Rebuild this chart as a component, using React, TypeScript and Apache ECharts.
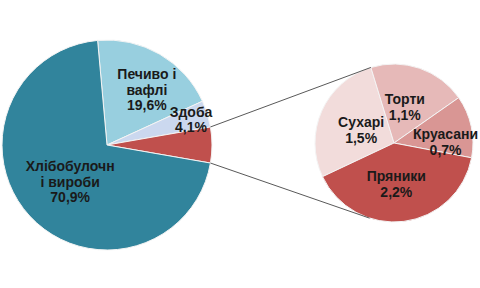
import React, { useEffect, useRef } from "react";
import * as echarts from "echarts";

// Main pie data
const mainNames = ["Печиво і\nвафлі", "Здоба", "Інше", "Хлібобулочн\nі вироби"];
const mainValues = [19.6, 4.1, 5.5, 70.9];
const mainLabels = ["19,6%", "4,1%", "", "70,9%"];

// Secondary pie data (breakdown of "Інше")
const subNames = ["Сухарі", "Торти", "Круасани", "Пряники"];
const subValues = [1.5, 1.1, 0.7, 2.2];
const subLabels = ["1,5%", "1,1%", "0,7%", "2,2%"];

const mainColors = ["#98CFDF", "#CBD8EF", "#C0504D", "#31849C"];
const subColors = ["#F2DCDB", "#E6B9B8", "#D99694", "#C0504D"];

// layout (pixels)
const MAIN_C = [107, 145];
const MAIN_R = 105;
const SUB_C = [394, 143];
const SUB_R = 79;
const SUB_START = 205.2;
const mainLabelShift = [[12, -7], [31, -9], [0, 0], [4, -1]];
const subLabelShift = [[6, 4], [-3, 4], [10, 8], [-3, -1]];

export default function App() {
  const ref = useRef<HTMLDivElement>(null);
  useEffect(() => {
    document.body.style.margin = "0";
    const chart = echarts.init(ref.current!, null, { renderer: "svg" });
    const total = mainValues.reduce((a, b) => a + b, 0);
    const otherIdx = 2;
    const before = mainValues.slice(0, otherIdx).reduce((a, b) => a + b, 0);
    const half = mainValues[otherIdx] / 2;
    const startAngle = ((before + half) / total) * 360;
    const halfDeg = (half / total) * 360;
    const rad = (d: number) => (d * Math.PI) / 180;
    const p1 = [MAIN_C[0] + MAIN_R * Math.cos(rad(halfDeg)), MAIN_C[1] - MAIN_R * Math.sin(rad(halfDeg))];
    const p2 = [MAIN_C[0] + MAIN_R * Math.cos(rad(-halfDeg)), MAIN_C[1] - MAIN_R * Math.sin(rad(-halfDeg))];
    const q1 = [SUB_C[0] + SUB_R * Math.cos(rad(107)), SUB_C[1] - SUB_R * Math.sin(rad(107))];
    const q2 = [SUB_C[0] + SUB_R * Math.cos(rad(-108)), SUB_C[1] - SUB_R * Math.sin(rad(-108))];

    const labelStyle = {
      show: true,
      position: "inside",
      color: "#1a1a1a",
      fontFamily: "'Liberation Sans', Arial, sans-serif",
      fontWeight: "bold",
      fontSize: 14,
      lineHeight: 15.5,
      align: "center",
    };

    chart.setOption({
      animation: false,
      backgroundColor: "#ffffff",
      graphic: [
        { type: "line", shape: { x1: p1[0], y1: p1[1], x2: q1[0], y2: q1[1] }, style: { stroke: "#595959", lineWidth: 1 }, z: 10 },
        { type: "line", shape: { x1: p2[0], y1: p2[1], x2: q2[0], y2: q2[1] }, style: { stroke: "#595959", lineWidth: 1 }, z: 10 },
      ],
      series: [
        {
          type: "pie",
          center: MAIN_C,
          radius: [0, MAIN_R],
          startAngle,
          clockwise: true,
          silent: true,
          itemStyle: { borderColor: "#f4f4f4", borderWidth: 1 },
          label: { ...labelStyle, formatter: (p: any) => (mainLabels[p.dataIndex] ? p.name + "\n" + mainLabels[p.dataIndex] : "") },
          labelLine: { show: false },
          labelLayout: (p: any) => ({ dx: mainLabelShift[p.dataIndex][0], dy: mainLabelShift[p.dataIndex][1] }),
          data: mainValues.map((v, i) => ({ value: v, name: mainNames[i], itemStyle: { color: mainColors[i] } })),
        },
        {
          type: "pie",
          center: SUB_C,
          radius: [0, SUB_R],
          startAngle: SUB_START,
          clockwise: true,
          silent: true,
          itemStyle: { borderColor: "#f4f4f4", borderWidth: 1 },
          label: { ...labelStyle, formatter: (p: any) => p.name + "\n" + subLabels[p.dataIndex] },
          labelLine: { show: false },
          labelLayout: (p: any) => ({ dx: subLabelShift[p.dataIndex][0], dy: subLabelShift[p.dataIndex][1] }),
          data: subValues.map((v, i) => ({ value: v, name: subNames[i], itemStyle: { color: subColors[i] } })),
        },
      ],
    });
    return () => chart.dispose();
  }, []);
  return <div ref={ref} style={{ width: 480, height: 288 }} />;
}
